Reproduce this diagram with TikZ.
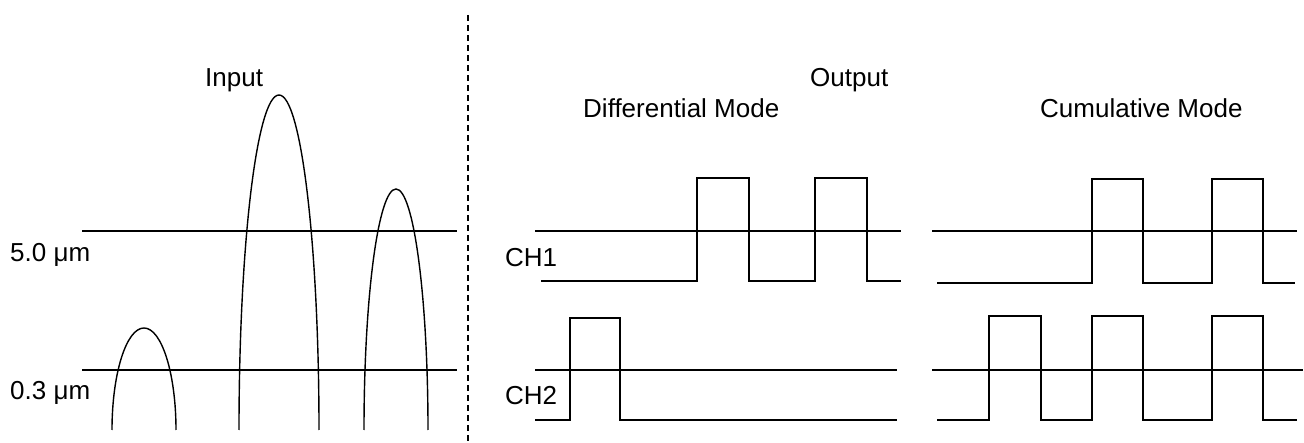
\documentclass[tikz,border=0pt]{standalone}
\usepackage{fontspec}
\setmainfont{Liberation Sans}
\begin{document}
\begin{tikzpicture}[x=1pt,y=-1pt,
  wave/.style={line width=1.6pt,line join=miter},
  level/.style={line width=1.5pt},
  peak/.style={line width=1.4pt},
  lbl/.style={anchor=base west,inner sep=0pt,font=\fontsize{26}{30}\selectfont}]
\useasboundingbox (0,0) rectangle (1304,443);
% divider
\draw[line width=1.4pt,dash pattern=on 6pt off 4pt] (468,15) -- (468,443);
% ---- Input ----
\node[lbl] (inp) at (205,87) {Input};
\node[lbl] (l50) at (10,262) {5.0 μm};
\node[lbl] (l03) at (10,400) {0.3 μm};
\draw[level] (82,231) -- (457,231);
\draw[level] (82,370) -- (457,370);
\draw[peak] (112,430) arc[start angle=180,end angle=360,x radius=32,y radius=102];
\draw[peak] (239,430) arc[start angle=180,end angle=360,x radius=40,y radius=335];
\draw[peak] (364,430) arc[start angle=180,end angle=360,x radius=32,y radius=241];
% ---- Output ----
\node[lbl] (out) at (810,87) {Output};
\node[lbl] (dm) at (583,118) {Differential Mode};
\node[lbl] (cm) at (1040,118) {Cumulative Mode};
\node[lbl] (ch1) at (505,267) {CH1};
\node[lbl] (ch2) at (505,405) {CH2};
% differential
\draw[level] (535,231) -- (901,231);
\draw[level] (535,370) -- (897,370);
\draw[wave] (541,281) -- (697,281) -- (697,178) -- (749,178) -- (749,281)
  -- (815,281) -- (815,178) -- (867,178) -- (867,281) -- (901,281);
\draw[wave] (535,420) -- (570,420) -- (570,318) -- (620,318) -- (620,420) -- (897,420);
% cumulative
\draw[level] (932,231) -- (1297,231);
\draw[level] (932,370) -- (1303,370);
\draw[wave] (937,283) -- (1092,283) -- (1092,179) -- (1143,179) -- (1143,283)
  -- (1212,283) -- (1212,179) -- (1263,179) -- (1263,283) -- (1295,283);
\draw[wave] (937,420) -- (989,420) -- (989,316) -- (1041,316) -- (1041,420)
  -- (1092,420) -- (1092,316) -- (1143,316) -- (1143,420)
  -- (1212,420) -- (1212,316) -- (1263,316) -- (1263,420) -- (1297,420);
\end{tikzpicture}
\end{document}
